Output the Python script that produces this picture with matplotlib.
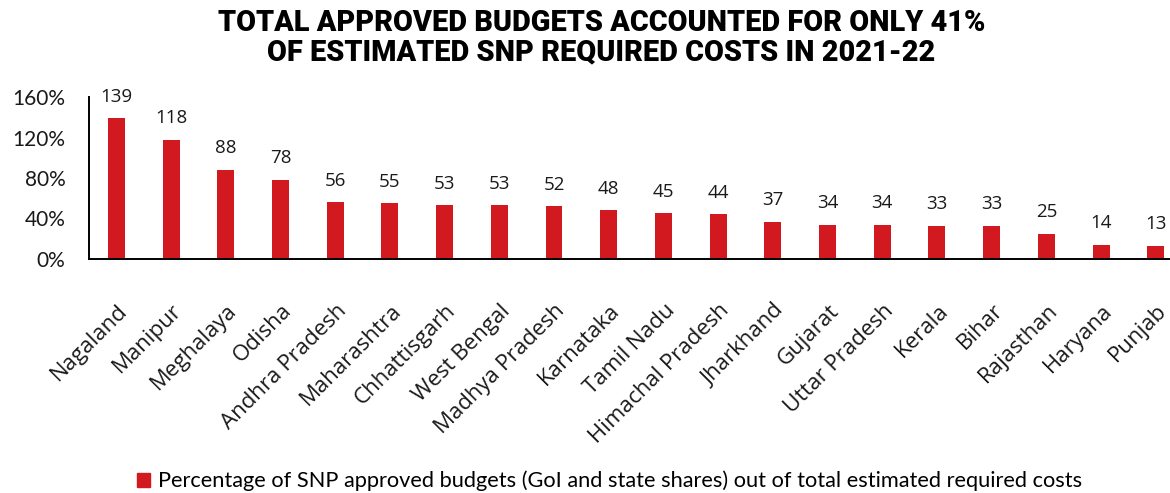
import matplotlib.pyplot as plt
import numpy as np
from matplotlib.patches import Patch
from matplotlib.transforms import ScaledTranslation

RED = "#D2191F"
INK = "#1a1a1a"

states = [
    "Nagaland", "Manipur", "Meghalaya", "Odisha", "Andhra Pradesh",
    "Maharashtra", "Chhattisgarh", "West Bengal", "Madhya Pradesh",
    "Karnataka", "Tamil Nadu", "Himachal Pradesh", "Jharkhand", "Gujarat",
    "Uttar Pradesh", "Kerala", "Bihar", "Rajasthan", "Haryana", "Punjab",
]
pct = [139, 118, 88, 78, 56, 55, 53, 53, 52, 48, 45, 44, 37, 34, 34, 33, 33, 25, 14, 13]
yticks = [0, 40, 80, 120, 160]

plt.rcParams["font.family"] = ["Lato", "DejaVu Sans"]

fig = plt.figure(figsize=(11.7, 4.93), dpi=100)
ax = fig.add_axes([89 / 1170, 1 - 259 / 493, (1170 - 89) / 1170, (259 - 97) / 493])

x = np.arange(len(states))
bars = ax.bar(x, pct, 0.31, color=RED, zorder=2)

for b, v in zip(bars, pct):
    ax.annotate(str(v), (b.get_x() + b.get_width() / 2, v), xytext=(0, 12),
                textcoords="offset points", ha="center", va="baseline",
                fontsize=13.5, color=INK, family=["Open Sans", "DejaVu Sans"])

ax.set_xlim(-0.5, 19.26)
ax.set_ylim(0, 160)
ax.set_yticks(yticks)
ax.set_yticklabels([f"{t}%" for t in yticks], fontsize=15, color=INK)
ax.set_xticks(x)
ax.set_xticklabels(states, rotation=45, ha="right", va="center", rotation_mode="anchor",
                   fontsize=16, color=INK, family=["Open Sans", "DejaVu Sans"])
ax.tick_params(axis="both", length=0)
ax.tick_params(axis="y", pad=17)
ax.tick_params(axis="x", pad=35)
shift = ScaledTranslation(8 / 100, 0, fig.dpi_scale_trans)
for lab in ax.get_xticklabels():
    lab.set_transform(lab.get_transform() + shift)

for s in ("top", "right"):
    ax.spines[s].set_visible(False)
ax.spines["left"].set_linewidth(1.4)
ax.spines["bottom"].set_linewidth(1.4)

fig.text(0.514, 0.924, "TOTAL APPROVED BUDGETS ACCOUNTED FOR ONLY 41%\nOF ESTIMATED SNP REQUIRED COSTS IN 2021-22",
         ha="center", va="center", fontsize=20.8, fontweight="heavy",
         family=["Roboto", "DejaVu Sans"], linespacing=1.07)

handle = Patch(color=RED)
fig.legend([handle],
           ["Percentage of SNP approved budgets (GoI and state shares) out of total estimated required costs"],
           loc="center", bbox_to_anchor=(0.521, 0.024), frameon=False, fontsize=15.7,
           handlelength=0.6, handleheight=0.6, handletextpad=0.4)

fig.savefig("out.png", dpi=100)
